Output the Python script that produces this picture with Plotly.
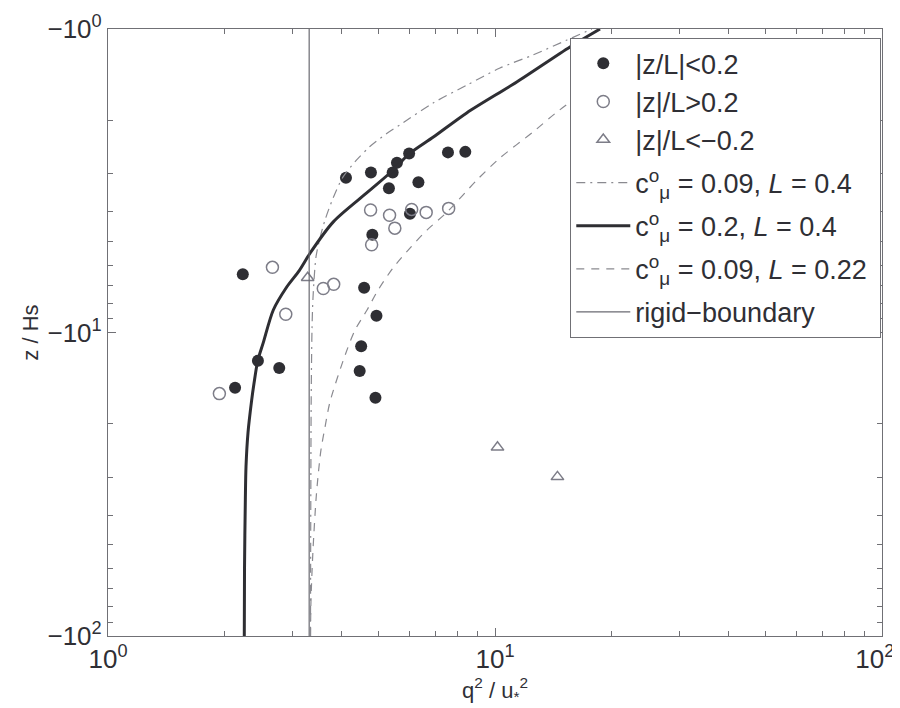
import plotly.graph_objects as go

# ---- data (q^2/u*^2 , depth |z|/Hs) ----
stable_q = [2.23, 2.44, 2.77, 2.13, 4.12, 4.78, 5.44, 5.58, 6.00, 5.32, 6.34,
            7.56, 8.38, 6.03, 4.82, 4.59, 4.94, 4.51, 4.47, 4.91]
stable_d = [6.43, 12.4, 13.1, 15.2, 3.09, 2.97, 2.97, 2.76, 2.57, 3.35, 3.20,
            2.55, 2.54, 4.06, 4.76, 7.12, 8.80, 11.1, 13.4, 16.4]

unstable_q = [4.77, 5.34, 5.51, 6.09, 6.64, 7.59, 4.80, 2.66, 3.60, 3.83, 2.88, 1.94]
unstable_d = [3.95, 4.11, 4.53, 3.93, 4.02, 3.90, 5.14, 6.10, 7.16, 6.94, 8.71, 15.9]

neg_q = [3.28, 10.15, 14.5]
neg_d = [6.60, 23.9, 29.9]

# model c=0.09, L=0.4 (dash-dot)
m1_q = [3.336, 3.342, 3.350, 3.366, 3.386, 3.447, 3.530, 3.637, 3.815, 4.05,
        4.39, 4.75, 5.25, 5.68, 6.92, 8.47, 10.3, 12.54, 15.35, 17.8]
m1_d = [100, 35.6, 16.7, 9.81, 7.70, 5.64, 4.88, 4.26, 3.61, 3.07,
        2.70, 2.44, 2.21, 2.07, 1.753, 1.53, 1.345, 1.218, 1.087, 1.0]

# model c=0.2, L=0.4 (solid)
m2_q = [2.250, 2.253, 2.264, 2.273, 2.300, 2.351, 2.384, 2.437, 2.519, 2.674,
        2.896, 3.12, 3.33, 3.821, 4.661, 5.46, 6.00, 6.93, 8.45, 11.38, 15.62, 18.68]
m2_d = [100, 59.3, 35.6, 27.7, 21.4, 16.7, 14.7, 12.4, 10.8, 8.43,
        7.08, 6.25, 5.47, 4.32, 3.47, 2.915, 2.58, 2.27, 1.89, 1.495, 1.146, 1.0]

# model c=0.09, L=0.22 (dashed)
m3_q = [3.336, 3.346, 3.386, 3.447, 3.488, 3.550, 3.637, 3.746, 4.10, 4.35,
        4.67, 4.99, 5.45, 6.03, 6.67, 7.52, 8.98, 10.3, 12.54, 14.46, 17.6]
m3_d = [100, 76.1, 52.1, 35.6, 29.9, 24.4, 20.5, 16.94, 11.86, 9.81,
        8.43, 7.24, 6.13, 5.27, 4.60, 4.01, 3.145, 2.66, 2.185, 1.877, 1.565]

rigid_q = [3.31, 3.31]
rigid_d = [100, 1]

x_ticks = [1, 10, 100]
x_ticktext = ["10<sup>0</sup>", "10<sup>1</sup>", "10<sup>2</sup>\u00a0\u00a0"]
y_ticks = [1, 10, 100]
y_ticktext = ["\u221210<sup>0</sup>", "\u221210<sup>1</sup>", "\u221210<sup>2</sup>"]
minor_vals = [2, 3, 4, 5, 6, 7, 8, 9, 20, 30, 40, 50, 60, 70, 80, 90]

FONT = "Liberation Sans, Arial, Helvetica, sans-serif"
DARK = "#2e2e33"
GRAY = "#8a8a90"
TXT = "#2f2f35"

fig = go.Figure()
fig.add_trace(go.Scatter(x=stable_q, y=stable_d, mode="markers", name="|z/L|<0.2",
                         legendgroup="pts",
                         marker=dict(symbol="circle", size=12, color=DARK)))
fig.add_trace(go.Scatter(x=unstable_q, y=unstable_d, mode="markers", name="|z|/L>0.2",
                         legendgroup="pts",
                         marker=dict(symbol="circle-open", size=12, color="#7d7d88",
                                     line=dict(width=1.5))))
fig.add_trace(go.Scatter(x=neg_q, y=neg_d, mode="markers", name="|z|/L<\u22120.2",
                         legendgroup="pts",
                         marker=dict(symbol="triangle-up-open", size=11, color="#7d7d88",
                                     line=dict(width=1.5))))
fig.add_trace(go.Scatter(x=m1_q, y=m1_d, mode="lines", legendgroup="m1",
                         name="c<sup>o</sup><sub>\u03bc</sub> = 0.09, <i>L</i> = 0.4",
                         line=dict(color=GRAY, width=1.2, dash="9px,5px,2px,5px",
                                   shape="spline", smoothing=0.8)))
fig.add_trace(go.Scatter(x=m2_q, y=m2_d, mode="lines", legendgroup="m2",
                         name="c<sup>o</sup><sub>\u03bc</sub> = 0.2, <i>L</i> = 0.4",
                         line=dict(color=DARK, width=3, shape="spline", smoothing=0.8)))
fig.add_trace(go.Scatter(x=m3_q, y=m3_d, mode="lines", legendgroup="m3",
                         name="c<sup>o</sup><sub>\u03bc</sub> = 0.09, <i>L</i> = 0.22\u00a0",
                         line=dict(color=GRAY, width=1.2, dash="8px,7px",
                                   shape="spline", smoothing=0.8)))
fig.add_trace(go.Scatter(x=rigid_q, y=rigid_d, mode="lines", name="rigid\u2212boundary",
                         legendgroup="rb",
                         line=dict(color="#6a6a72", width=1.2)))

axis_common = dict(type="log", showline=True, linecolor="#707075", linewidth=1.2,
                   mirror="allticks", ticks="inside", ticklen=8, tickcolor="#707075",
                   showgrid=False, zeroline=False, automargin=False,
                   ticklabeloverflow="allow",
                   tickfont=dict(family=FONT, size=26, color=TXT),
                   minor=dict(ticks="inside", ticklen=5, tickcolor="#707075",
                              tickvals=minor_vals, showgrid=False))

fig.update_xaxes(**axis_common, range=[0, 2], tickvals=x_ticks, ticktext=x_ticktext,
                 title=dict(text="q<sup>2</sup> / u<sub>*</sub><sup>2</sup>",
                            font=dict(family=FONT, size=22, color=TXT), standoff=6))
fig.update_yaxes(**axis_common, range=[2, 0], tickvals=y_ticks, ticktext=y_ticktext,
                 title=dict(text="z / Hs", font=dict(family=FONT, size=22, color=TXT),
                            standoff=2))

# page body adds an 8px offset: figure is 892x700 placed at (8, 8)
fig.update_layout(
    width=892, height=700,
    margin=dict(l=100, r=18, t=21, b=72),
    paper_bgcolor="white", plot_bgcolor="white",
    font=dict(family=FONT, size=22, color=TXT),
    showlegend=True,
    legend=dict(x=0.597, y=0.985, xanchor="left", yanchor="top",
                bgcolor="white", bordercolor="#707075", borderwidth=1.2,
                font=dict(family=FONT, size=27, color=TXT),
                itemwidth=54, tracegroupgap=5, traceorder="grouped"),
)

fig.write_html("out.html")
